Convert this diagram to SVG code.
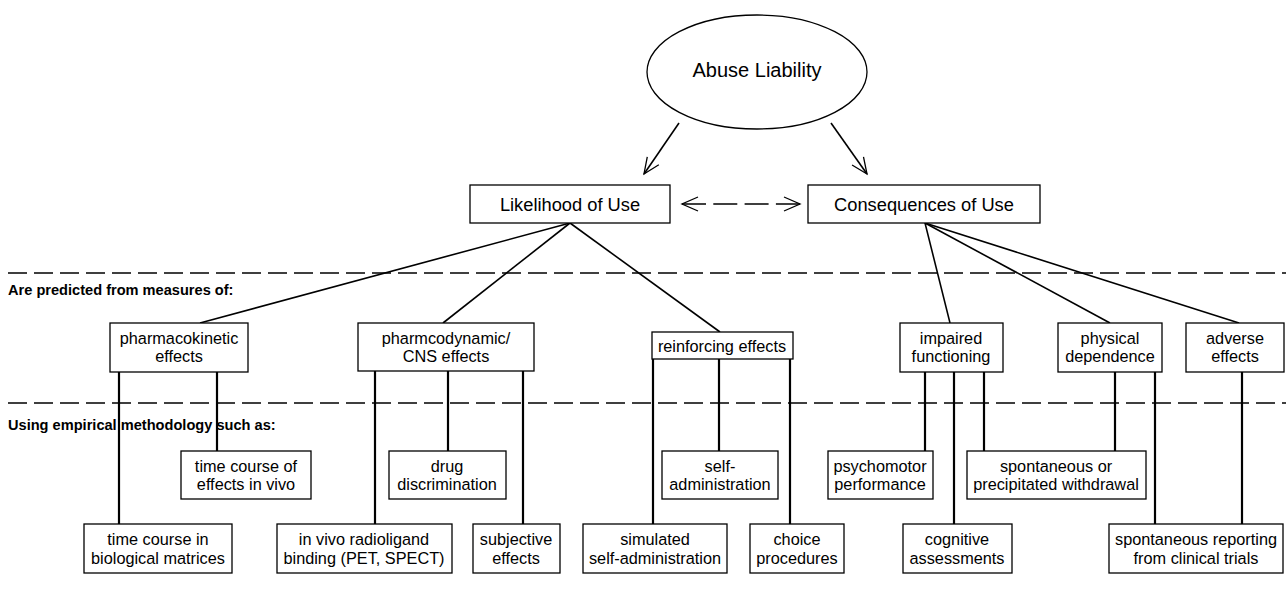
<svg xmlns="http://www.w3.org/2000/svg" width="1286" height="595" viewBox="0 0 1286 595">
<defs>
<style>
.b{fill:#fff;stroke:#000;stroke-width:1.3}
.t{font-family:"Liberation Sans",Arial,sans-serif;font-size:16.3px;fill:#000;text-anchor:middle}
.tl{font-size:18.3px}
.lab{font-family:"Liberation Sans",Arial,sans-serif;font-size:14.6px;font-weight:bold;fill:#000}
.c{stroke:#000;stroke-width:1.6;fill:none}
.v{stroke:#000;stroke-width:2.2;fill:none}
.sep{stroke:#000;stroke-width:1.3;stroke-dasharray:19 7;fill:none}
</style>
<marker id="ah" viewBox="0 0 20 20" refX="18" refY="10" markerWidth="20" markerHeight="20" markerUnits="userSpaceOnUse" orient="auto-start-reverse">
<path d="M2,3 L18,10 L2,17" fill="none" stroke="#000" stroke-width="1.3"/>
</marker>
</defs>
<rect width="1286" height="595" fill="#fff"/>

<g id="separators">
<line class="sep" x1="8" y1="273" x2="1286" y2="273"/>
<line class="sep" x1="8" y1="403" x2="1286" y2="403"/>
<text class="lab" x="8" y="295">Are predicted from measures of:</text>
<text class="lab" x="8" y="430">Using empirical methodology such as:</text>
</g>

<g id="connectors">
<line class="c" x1="679" y1="123" x2="644" y2="174" marker-end="url(#ah)"/>
<line class="c" x1="831" y1="123" x2="867" y2="174" marker-end="url(#ah)"/>
<line x1="682" y1="204" x2="800" y2="204" stroke="#000" stroke-width="1.3" stroke-dasharray="24 7.3" marker-start="url(#ah)" marker-end="url(#ah)"/>
<line class="c" x1="570" y1="223" x2="200" y2="323"/>
<line class="c" x1="570" y1="223" x2="443" y2="323"/>
<line class="c" x1="570" y1="223" x2="720" y2="332"/>
<line class="c" x1="925" y1="223" x2="950" y2="323"/>
<line class="c" x1="925" y1="223" x2="1110" y2="323"/>
<line class="c" x1="925" y1="223" x2="1239" y2="323"/>
<line class="v" x1="119" y1="372" x2="119" y2="524"/>
<line class="v" x1="217" y1="372" x2="217" y2="451"/>
<line class="v" x1="375" y1="371" x2="375" y2="524"/>
<line class="v" x1="448" y1="371" x2="448" y2="451"/>
<line class="v" x1="523" y1="371" x2="523" y2="524"/>
<line class="v" x1="653" y1="359" x2="653" y2="524"/>
<line class="v" x1="719" y1="359" x2="719" y2="451"/>
<line class="v" x1="790" y1="359" x2="790" y2="524"/>
<line class="v" x1="925" y1="372" x2="925" y2="451"/>
<line class="v" x1="954" y1="372" x2="954" y2="524"/>
<line class="v" x1="984" y1="372" x2="984" y2="451"/>
<line class="v" x1="1115" y1="372" x2="1115" y2="451"/>
<line class="v" x1="1155" y1="372" x2="1155" y2="524"/>
<line class="v" x1="1242" y1="372" x2="1242" y2="524"/>
</g>

<g id="abuse-liability">
<ellipse class="b" cx="757" cy="72" rx="110" ry="57"/>
<text class="t" x="757" y="77" style="font-size:20px">Abuse Liability</text>
</g>
<g id="likelihood">
<rect class="b" x="470" y="185" width="200" height="38"/>
<text class="t tl" x="570" y="211">Likelihood of Use</text>
</g>
<g id="consequences">
<rect class="b" x="808" y="185" width="232" height="38"/>
<text class="t tl" x="924" y="211">Consequences of Use</text>
</g>

<g id="pharmacokinetic">
<rect class="b" x="110" y="323" width="138" height="49"/>
<text class="t" x="179" y="344">pharmacokinetic</text>
<text class="t" x="179" y="362">effects</text>
</g>
<g id="pharmacodynamic">
<rect class="b" x="358" y="323" width="176" height="48"/>
<text class="t" x="446" y="344">pharmcodynamic/</text>
<text class="t" x="446" y="362">CNS effects</text>
</g>
<g id="reinforcing">
<rect class="b" x="652" y="332" width="141" height="27"/>
<text class="t" x="722" y="352">reinforcing effects</text>
</g>
<g id="impaired">
<rect class="b" x="900" y="323" width="103" height="49"/>
<text class="t" x="951" y="344">impaired</text>
<text class="t" x="951" y="362">functioning</text>
</g>
<g id="physical">
<rect class="b" x="1058" y="323" width="104" height="49"/>
<text class="t" x="1110" y="344">physical</text>
<text class="t" x="1110" y="362">dependence</text>
</g>
<g id="adverse">
<rect class="b" x="1186" y="323" width="98" height="49"/>
<text class="t" x="1235" y="344">adverse</text>
<text class="t" x="1235" y="362">effects</text>
</g>

<g id="time-course-vivo">
<rect class="b" x="181" y="451" width="130" height="48"/>
<text class="t" x="246" y="472">time course of</text>
<text class="t" x="246" y="490">effects in vivo</text>
</g>
<g id="drug-discrimination">
<rect class="b" x="389" y="451" width="117" height="48"/>
<text class="t" x="447" y="472">drug</text>
<text class="t" x="447" y="490">discrimination</text>
</g>
<g id="self-administration">
<rect class="b" x="662" y="451" width="116" height="48"/>
<text class="t" x="720" y="472">self-</text>
<text class="t" x="720" y="490">administration</text>
</g>
<g id="psychomotor">
<rect class="b" x="828" y="451" width="105" height="48"/>
<text class="t" x="880" y="472">psychomotor</text>
<text class="t" x="880" y="490">performance</text>
</g>
<g id="withdrawal">
<rect class="b" x="967" y="451" width="179" height="48"/>
<text class="t" x="1056" y="472">spontaneous or</text>
<text class="t" x="1056" y="490">precipitated withdrawal</text>
</g>

<g id="time-course-matrices">
<rect class="b" x="84" y="524" width="148" height="49"/>
<text class="t" x="158" y="545">time course in</text>
<text class="t" x="158" y="564">biological matrices</text>
</g>
<g id="radioligand">
<rect class="b" x="277" y="524" width="175" height="49"/>
<text class="t" x="364" y="545">in vivo radioligand</text>
<text class="t" x="364" y="564">binding (PET, SPECT)</text>
</g>
<g id="subjective">
<rect class="b" x="473" y="524" width="87" height="49"/>
<text class="t" x="516" y="545">subjective</text>
<text class="t" x="516" y="564">effects</text>
</g>
<g id="simulated">
<rect class="b" x="583" y="524" width="144" height="49"/>
<text class="t" x="655" y="545">simulated</text>
<text class="t" x="655" y="564">self-administration</text>
</g>
<g id="choice">
<rect class="b" x="750" y="524" width="94" height="49"/>
<text class="t" x="797" y="545">choice</text>
<text class="t" x="797" y="564">procedures</text>
</g>
<g id="cognitive">
<rect class="b" x="903" y="524" width="109" height="49"/>
<text class="t" x="957" y="545">cognitive</text>
<text class="t" x="957" y="564">assessments</text>
</g>
<g id="spontaneous-reporting">
<rect class="b" x="1109" y="524" width="174" height="49"/>
<text class="t" x="1196" y="545">spontaneous reporting</text>
<text class="t" x="1196" y="564">from clinical trials</text>
</g>
</svg>
